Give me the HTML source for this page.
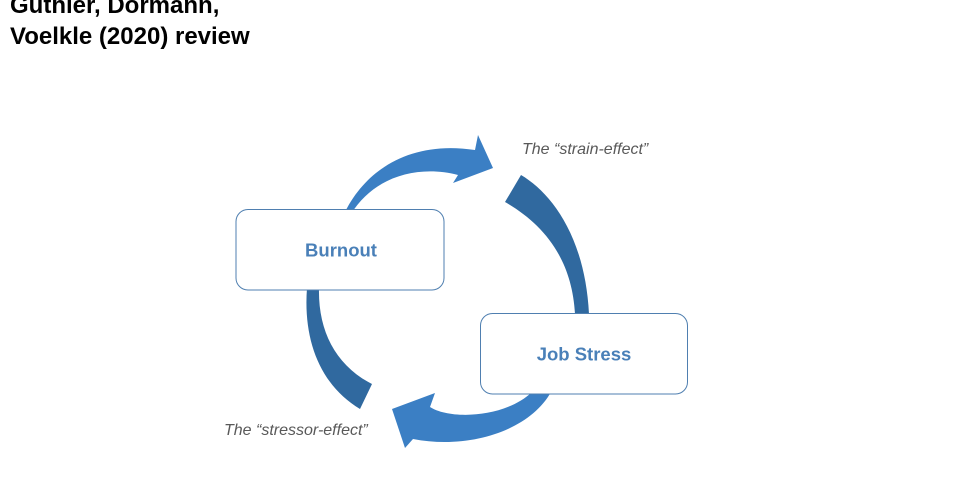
<!DOCTYPE html>
<html>
<head>
<meta charset="utf-8">
<style>
  html, body { margin: 0; padding: 0; background: #ffffff; }
  body { width: 960px; height: 500px; overflow: hidden; position: relative; }
  .title {
    position: absolute; left: 10px; top: -10px;
    font-family: "Liberation Sans", Arial, sans-serif; font-weight: bold;
    font-size: 24px; line-height: 31px; color: #000;
    white-space: nowrap;
  }
  svg { position: absolute; left: 0; top: 0; }
</style>
</head>
<body>
<div class="title">Guthler, Dormann,<br>Voelkle (2020) review</div>
<svg width="960" height="500" viewBox="0 0 960 500" xmlns="http://www.w3.org/2000/svg">
  <!-- top light arrow (Burnout -> Job Stress) -->
  <path d="M344,214 C365,170 410,140 475,150 L478,135 L493,168 L453,183 L458,175 C420,165 375,175 351,214 Z" fill="#3b7fc4"/>
  <!-- right dark arc -->
  <path d="M505,202 L521,175 C550,192 585,235 589,314 L575,314 C572,260 545,225 505,202 Z" fill="#30699f"/>
  <!-- left dark arc -->
  <path d="M307,288 C303,340 320,385 360,409 L372,384 C335,365 318,330 319,288 Z" fill="#30699f"/>
  <!-- bottom light arrow (Job Stress -> Burnout) -->
  <path d="M551,392 C530,430 470,450 413,439 L405,448 L392,409 L435,393 L430,407 C450,420 505,418 532,392 Z" fill="#3b7fc4"/>

  <!-- boxes -->
  <rect x="236" y="209.5" width="208" height="80.5" rx="12" ry="12" fill="#ffffff" stroke="#4f7fb0" stroke-width="1"/>
  <rect x="480.5" y="313.5" width="207" height="80.5" rx="12" ry="12" fill="#ffffff" stroke="#4f7fb0" stroke-width="1"/>

  <text x="341" y="256.5" text-anchor="middle" font-family="Liberation Sans, Arial, sans-serif" font-weight="bold" font-size="18.5" fill="#4a80b8">Burnout</text>
  <text x="584" y="360.5" text-anchor="middle" font-family="Liberation Sans, Arial, sans-serif" font-weight="bold" font-size="18.5" fill="#4a80b8">Job Stress</text>

  <text x="522" y="154" font-family="Liberation Sans, Arial, sans-serif" font-style="italic" font-size="16" fill="#595959">The “strain-effect”</text>
  <text x="224" y="435" font-family="Liberation Sans, Arial, sans-serif" font-style="italic" font-size="16" fill="#595959">The “stressor-effect”</text>
</svg>
</body>
</html>
